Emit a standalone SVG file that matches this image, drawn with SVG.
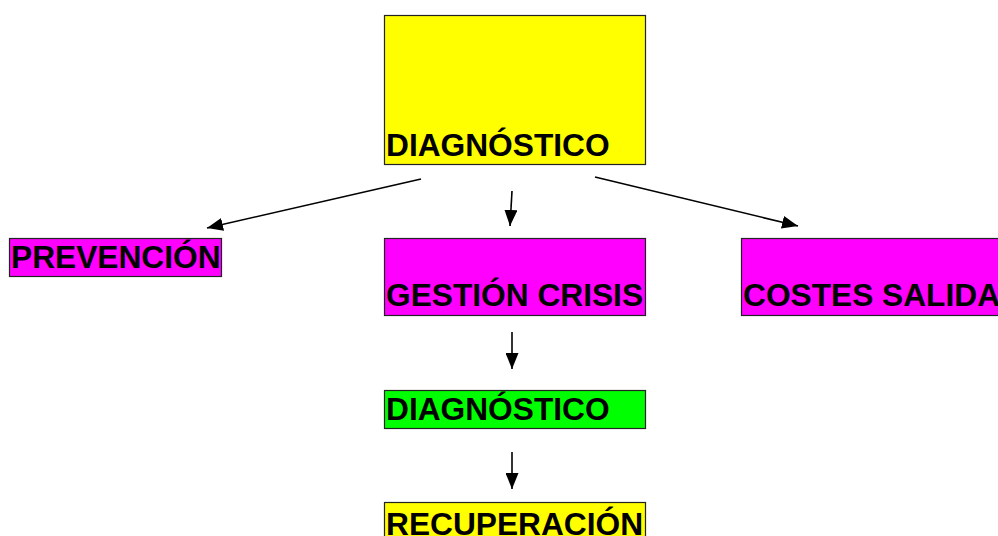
<svg xmlns="http://www.w3.org/2000/svg" width="998" height="536" viewBox="0 0 998 536">
<style>
.box{stroke:#222;stroke-width:1.2}
.t{font-family:"Liberation Sans",Arial,sans-serif;font-weight:bold;font-size:31.7px;fill:#000}
.c{stroke:#000;stroke-width:1.6;fill:none;marker-end:url(#ah)}
</style>
<defs>
<marker id="ah" markerWidth="16" markerHeight="13" refX="16" refY="6.5" orient="auto" markerUnits="userSpaceOnUse" viewBox="0 0 16 13">
<path d="M0,0 L16,6.5 L0,13 Z" fill="#000"/>
</marker>
</defs>
<rect width="998" height="536" fill="#fff"/>
<g id="diag1"><rect class="box" x="384.5" y="15.5" width="261" height="149" fill="#ffff00"/><text class="t" x="386" y="156">DIAGNÓSTICO</text></g>
<g id="prevencion"><rect class="box" x="9.5" y="238.5" width="212" height="38" fill="#ff00ff"/><text class="t" x="11" y="268">PREVENCIÓN</text></g>
<g id="gestion"><rect class="box" x="384.5" y="238.5" width="261" height="77" fill="#ff00ff"/><text class="t" x="386" y="306">GESTIÓN CRISIS</text></g>
<g id="costes"><rect class="box" x="741.5" y="238.5" width="270" height="77" fill="#ff00ff"/><text class="t" x="743" y="306">COSTES SALIDA</text></g>
<g id="diag2"><rect class="box" x="384.5" y="390.5" width="261" height="38" fill="#00ff00"/><text class="t" x="386" y="420">DIAGNÓSTICO</text></g>
<g id="recuperacion"><rect class="box" x="384.5" y="502.5" width="261" height="40" fill="#ffff00"/><text class="t" x="386" y="535">RECUPERACIÓN</text></g>
<g id="connectors">
<line class="c" x1="421" y1="179" x2="207" y2="228"/>
<line class="c" x1="512" y1="191" x2="510" y2="226"/>
<line class="c" x1="595" y1="177" x2="798" y2="226"/>
<line class="c" x1="512" y1="332" x2="512" y2="369"/>
<line class="c" x1="512" y1="452" x2="512" y2="489"/>
</g>
</svg>
